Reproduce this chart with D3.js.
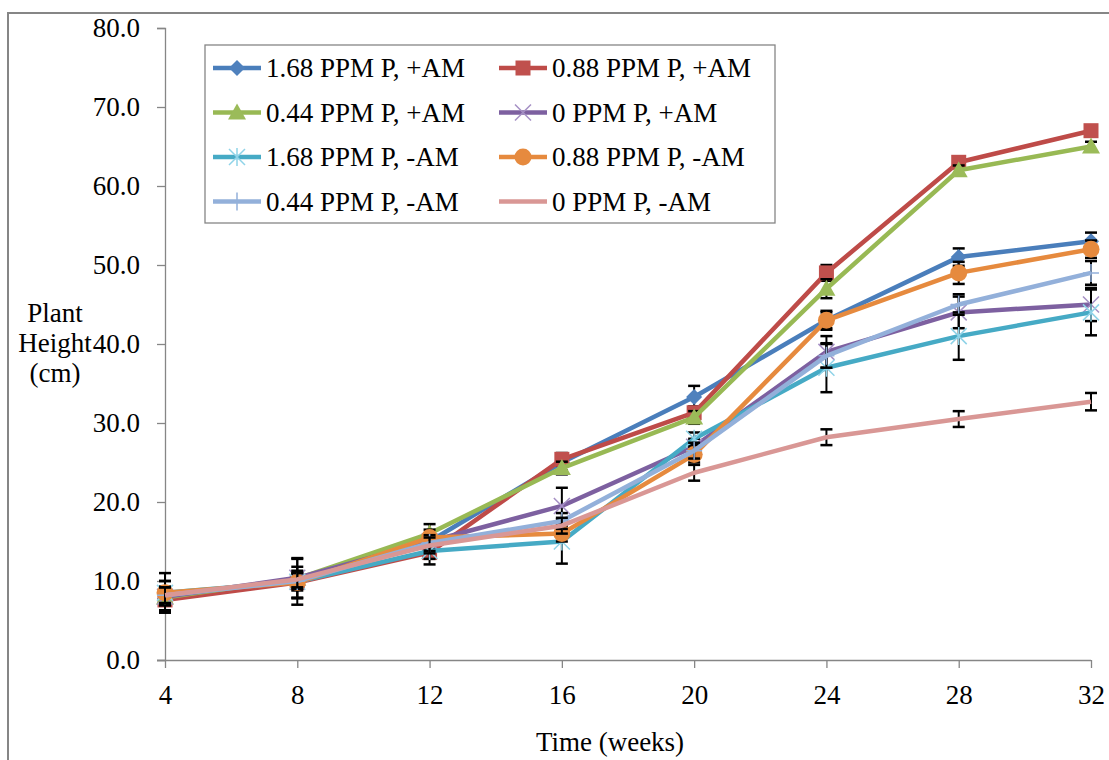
<!DOCTYPE html>
<html><head><meta charset="utf-8">
<script src="https://cdn.jsdelivr.net/npm/d3@7/dist/d3.min.js"></script>
<style>body{margin:0;background:#fff}svg{display:block}text{font-family:"Liberation Serif","Times New Roman","DejaVu Serif",serif;fill:#000}</style>
</head><body><svg id="c" width="1109" height="760"></svg>
<script>
const weeks = [4, 8, 12, 16, 20, 24, 28, 32];
const yTicks = [0, 10, 20, 30, 40, 50, 60, 70, 80];
const seriesNames = ["1.68 PPM P, +AM","0.88 PPM P, +AM","0.44 PPM P, +AM","0 PPM P, +AM","1.68 PPM P, -AM","0.88 PPM P, -AM","0.44 PPM P, -AM","0 PPM P, -AM"];
const p168am = [7.8, 10.0, 15.0, 25.0, 33.3, 43.0, 51.0, 53.0];
const p088am = [7.6, 9.8, 13.6, 25.4, 31.3, 49.0, 63.0, 67.0];
const p044am = [7.9, 10.3, 16.0, 24.3, 30.7, 47.0, 62.0, 65.0];
const p0am   = [8.0, 10.4, 15.0, 19.5, 27.0, 39.0, 44.0, 45.0];
const p168no = [8.5, 9.9, 13.8, 15.0, 28.0, 37.0, 41.0, 44.0];
const p088no = [8.5, 9.8, 15.5, 16.0, 26.0, 43.0, 49.0, 52.0];
const p044no = [8.2, 10.0, 14.8, 17.6, 26.5, 38.5, 45.0, 49.0];
const p0no   = [8.2, 10.2, 14.5, 17.0, 23.7, 28.2, 30.5, 32.7];
const e168am = [1.5, 1.0, 1.0, 1.0, 1.4, 1.2, 1.1, 1.1];
const e088am = [1.5, 1.0, 1.5, 0.8, 0.8, 1.0, 0.6, 0.6];
const e044am = [1.0, 1.0, 1.2, 0.8, 0.8, 1.2, 0.6, 0.6];
const e0am   = [2.0, 2.5, 1.0, 2.3, 1.0, 2.0, 2.0, 2.1];
const e168no = [2.5, 2.9, 1.0, 2.8, 0.8, 3.1, 3.0, 2.9];
const e088no = [1.5, 2.0, 1.0, 1.0, 1.0, 1.0, 1.4, 1.1];
const e044no = [1.0, 1.0, 1.0, 1.0, 1.0, 1.5, 1.3, 1.5];
const e0no   = [1.0, 1.0, 1.0, 1.0, 1.0, 1.0, 1.0, 1.1];

const values = [p168am,p088am,p044am,p0am,p168no,p088no,p044no,p0no];
const errs = [e168am,e088am,e044am,e0am,e168no,e088no,e044no,e0no];
const colors = ["#4A7EBB","#BE4B48","#98B954","#7D60A0","#46AAC5","#E68A3E","#93B0DA","#D99795"];
const mColors = ["#4F81BD","#C0504D","#9BBB59","#A58FC4","#8FD3E8","#E68A3E","#93B0DA",null];
const markers = ["diamond","square","triangle","x","star","circle","plus",null];

const FONT = '"Liberation Serif","Times New Roman","DejaVu Serif",serif';
const svg = d3.select("#c");
const x = d3.scaleLinear().domain([4,32]).range([165,1091]);
const y = d3.scaleLinear().domain([0,80]).range([660,28]);
const axisCol = "#868686";

svg.append("rect").attr("x",8).attr("y",13).attr("width",1130).attr("height",800)
  .attr("fill","none").attr("stroke",axisCol).attr("stroke-width",2);

const ya = svg.append("g").attr("transform","translate(165,0)")
  .call(d3.axisLeft(y).tickValues(yTicks).tickFormat(d3.format(".1f")).tickSize(8).tickPadding(17));
ya.attr("font-family",FONT);
ya.select(".domain").attr("stroke",axisCol).attr("stroke-width",1.3);
ya.selectAll(".tick line").attr("stroke",axisCol).attr("stroke-width",1.3);
ya.selectAll("text").attr("font-size",27).attr("fill","#000");

const xa = svg.append("g").attr("transform","translate(0,660)")
  .call(d3.axisBottom(x).tickValues(weeks).tickFormat(d3.format("d")).tickSize(8).tickSizeOuter(0).tickPadding(17));
xa.attr("font-family",FONT);
xa.select(".domain").attr("stroke",axisCol).attr("stroke-width",1.3).attr("d","M157,0.5H1091");
xa.selectAll(".tick line").attr("stroke",axisCol).attr("stroke-width",1.3);
xa.selectAll("text").attr("font-size",27).attr("fill","#000");

svg.append("text").attr("x",610).attr("y",751).attr("text-anchor","middle").attr("font-size",27).text("Time (weeks)");
const yt = svg.append("text").attr("x",55).attr("text-anchor","middle").attr("font-size",27);
[["Plant",322],["Height",352],["(cm)",382]].forEach(([t,yy])=>yt.append("tspan").attr("x",55).attr("y",yy).text(t));

function drawMarker(g, type, cx, cy, col){
  const s = 8;
  if(type==="diamond") g.append("path").attr("d",`M${cx},${cy-s}L${cx+s},${cy}L${cx},${cy+s}L${cx-s},${cy}Z`).attr("fill",col);
  else if(type==="square") g.append("rect").attr("x",cx-7.5).attr("y",cy-7.5).attr("width",15).attr("height",15).attr("fill",col);
  else if(type==="triangle") g.append("path").attr("d",`M${cx},${cy-9}L${cx+9},${cy+7}L${cx-9},${cy+7}Z`).attr("fill",col);
  else if(type==="circle") g.append("circle").attr("cx",cx).attr("cy",cy).attr("r",8.5).attr("fill",col);
  else if(type==="x") g.append("path").attr("d",`M${cx-8},${cy-8}L${cx+8},${cy+8}M${cx-8},${cy+8}L${cx+8},${cy-8}`).attr("stroke",col).attr("stroke-width",1.5);
  else if(type==="star") g.append("path").attr("d",`M${cx-8},${cy-8}L${cx+8},${cy+8}M${cx-8},${cy+8}L${cx+8},${cy-8}M${cx},${cy-9}L${cx},${cy+9}`).attr("stroke",col).attr("stroke-width",1.5);
  else if(type==="plus") g.append("path").attr("d",`M${cx-8},${cy}L${cx+8},${cy}M${cx},${cy-9}L${cx},${cy+9}`).attr("stroke",col).attr("stroke-width",1.5);
}

const line = d3.line().x((d,i)=>x(weeks[i])).y(d=>y(d));
values.forEach((vals,si)=>{
  const g = svg.append("g");
  vals.forEach((v,i)=>{
    const cx = x(weeks[i]), e = errs[si][i];
    const y1 = y(v+e), y2 = y(v-e);
    g.append("line").attr("x1",cx).attr("x2",cx).attr("y1",y1).attr("y2",y2).attr("stroke","#000").attr("stroke-width",2);
    [y1,y2].forEach(yy=>g.append("line").attr("x1",cx-6).attr("x2",cx+6).attr("y1",yy).attr("y2",yy).attr("stroke","#000").attr("stroke-width",2.5));
  });
  g.append("path").attr("d",line(vals)).attr("fill","none").attr("stroke",colors[si]).attr("stroke-width",4.5).attr("stroke-linejoin","round");
  if(markers[si]) vals.forEach((v,i)=>drawMarker(g,markers[si],x(weeks[i]),y(v),mColors[si]));
});

const lg = svg.append("g");
lg.append("rect").attr("x",205).attr("y",45).attr("width",570).attr("height",178).attr("fill","#fff").attr("stroke",axisCol).attr("stroke-width",1.3);
seriesNames.forEach((name,si)=>{
  const col = si%2, row = Math.floor(si/2);
  const lx = col===0 ? 213 : 499;
  const ly = 68 + row*44.5;
  lg.append("line").attr("x1",lx).attr("x2",lx+48).attr("y1",ly).attr("y2",ly).attr("stroke",colors[si]).attr("stroke-width",4.5);
  if(markers[si]) drawMarker(lg,markers[si],lx+24,ly,mColors[si]);
  lg.append("text").attr("x",lx+53).attr("y",ly+9).attr("font-size",27).text(name);
});
</script></body></html>
